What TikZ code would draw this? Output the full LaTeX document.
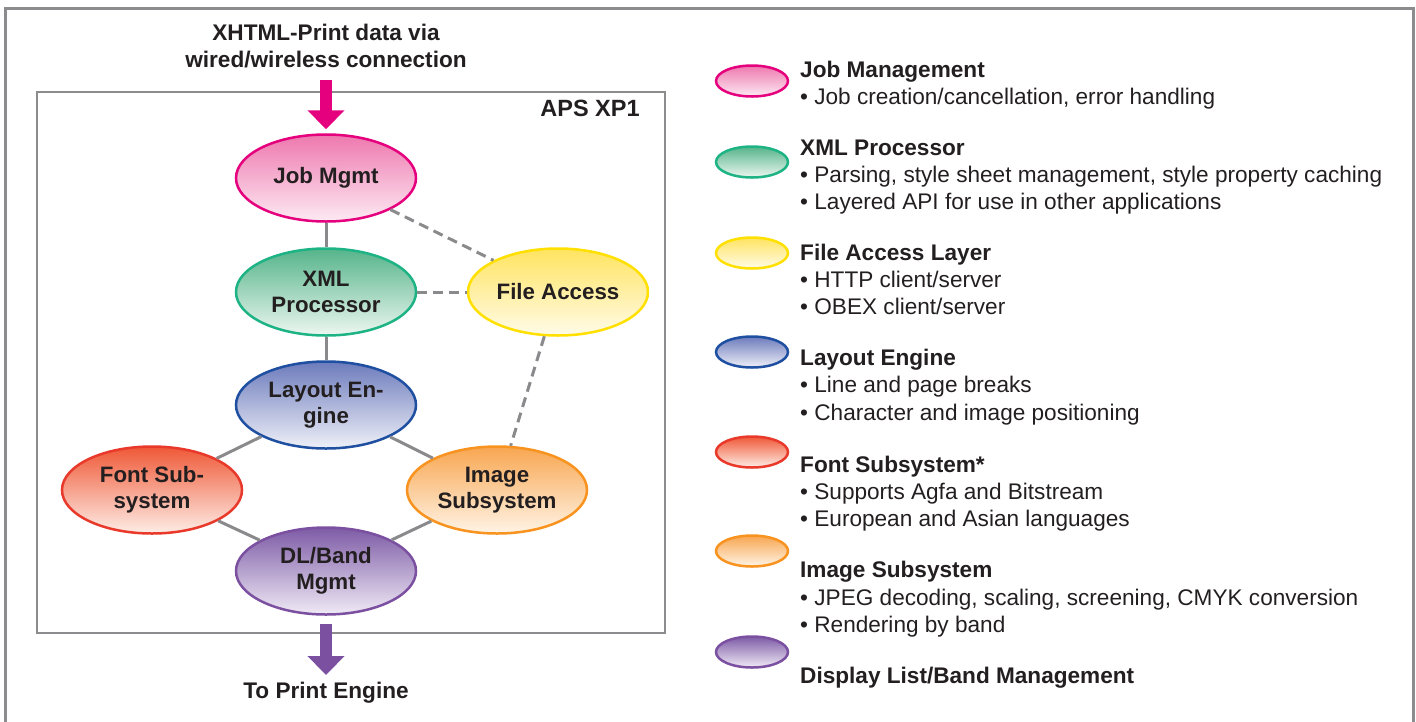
\documentclass[tikz,border=0pt]{standalone}
\usepackage{fontspec}
\setmainfont{Liberation Sans}
\usetikzlibrary{arrows.meta,shapes.geometric}
\definecolor{txt}{HTML}{231F20}
\definecolor{framegray}{HTML}{8C8C8E}
\definecolor{linkgray}{HTML}{8A8A8C}
\definecolor{jobB}{HTML}{E5007E}\definecolor{jobT}{HTML}{EE78AE}\definecolor{jobW}{HTML}{FDEAF3}
\definecolor{xmlB}{HTML}{1DB384}\definecolor{xmlT}{HTML}{55B48A}\definecolor{xmlW}{HTML}{EDF7F1}
\definecolor{fileB}{HTML}{FFE000}\definecolor{fileT}{HTML}{FFE460}\definecolor{fileW}{HTML}{FFFBE8}
\definecolor{layB}{HTML}{1F4FA0}\definecolor{layT}{HTML}{6C7BBC}\definecolor{layW}{HTML}{EFF0F8}
\definecolor{fontB}{HTML}{E8392B}\definecolor{fontT}{HTML}{EF5837}\definecolor{fontW}{HTML}{FEEDE6}
\definecolor{imgB}{HTML}{F7931E}\definecolor{imgT}{HTML}{F8A650}\definecolor{imgW}{HTML}{FFF4E6}
\definecolor{dlB}{HTML}{7C50A0}\definecolor{dlT}{HTML}{7D5BA6}\definecolor{dlW}{HTML}{F0EAF6}
\tikzset{
  blob/.style={ellipse, draw, line width=2.5pt, minimum width=180pt, minimum height=87pt,
    inner sep=0pt, align=center, font=\fontsize{22.3}{26}\selectfont\bfseries, text=txt},
  legblob/.style={ellipse, draw, line width=2.5pt, minimum width=72pt, minimum height=31pt, inner sep=0pt},
  sh/.style 2 args={top color=#1, bottom color=#2},
  link/.style={draw=linkgray, line width=3pt},
  dlink/.style={draw=linkgray, line width=3pt, dash pattern=on 10pt off 6pt},
  ltitle/.style={anchor=base west, font=\fontsize{22.6}{27}\selectfont\bfseries, inner sep=0pt, text=txt},
  litem/.style={anchor=base west, font=\fontsize{22.6}{27}\selectfont, inner sep=0pt, text=txt},
  plain/.style={font=\fontsize{22.6}{27}\selectfont\bfseries, text=txt, align=center, inner sep=0pt},
}
\begin{document}
\begin{tikzpicture}[x=1pt,y=-1pt]
\useasboundingbox (0,0) rectangle (1416,721);
% outer frame (cut at bottom)
\draw[framegray, line width=3pt] (5,730) -- (5,8) -- (1413,8) -- (1413,730);
% inner box
\node[draw=framegray, line width=2.5pt, minimum width=628pt, minimum height=541pt, inner sep=0pt] (box) at (351,362.5) {};
\node[plain, anchor=center, font=\fontsize{23.5}{27}\selectfont\bfseries] (aps) at (590,108) {APS XP1};
\node[plain] (intext) at (326,46) {XHTML-Print data via\\wired/wireless connection};
\node[plain] (outtext) at (326,693) {To Print Engine};
% ellipses
\node[blob, draw=jobB, sh={jobT}{jobW}] (job) at (326,178) {Job Mgmt};
\node[blob, draw=xmlB, sh={xmlT}{xmlW}] (xml) at (326,292) {XML\\Processor};
\node[blob, draw=fileB, sh={fileT}{fileW}] (file) at (558,292) {File Access};
\node[blob, draw=layB, sh={layT}{layW}] (lay) at (326,405) {Layout En-\\gine};
\node[blob, draw=fontB, sh={fontT}{fontW}] (font) at (152,490) {Font Sub-\\system};
\node[blob, draw=imgB, sh={imgT}{imgW}] (img) at (497,490) {Image\\Subsystem};
\node[blob, draw=dlB, sh={dlT}{dlW}] (dl) at (326,571) {DL/Band\\Mgmt};
% connectors
\path[link] (job) -- (xml);
\path[link] (xml) -- (lay);
\path[link] (lay) -- (font);
\path[link] (lay) -- (img);
\path[link] (font) -- (dl);
\path[link] (img) -- (dl);
\path[dlink] (job) -- (file);
\path[dlink] (xml) -- (file);
\path[dlink] (file) -- (img);
% in/out arrows
\coordinate (ain) at (326,80);
\coordinate (aout) at (326,675);
\draw[jobB, line width=12pt, -{Triangle[width=36pt,length=19pt]}, shorten >=4pt] (ain) -- (job.north);
\draw[dlB, line width=12pt, -{Triangle[width=36pt,length=19pt]}, shorten <=8pt] (dl.south) -- (aout);
% legend
\node[legblob, draw=jobB, sh={jobT}{jobW}] (l1) at (752,81) {};
\node[ltitle] (t1) at (800,77) {Job Management};
\node[litem] (t1a) at (800,104) {• Job creation/cancellation, error handling};
\node[legblob, draw=xmlB, sh={xmlT}{xmlW}] (l2) at (752,162) {};
\node[ltitle] (t2) at (800,155) {XML Processor};
\node[litem] (t2a) at (800,182) {• Parsing, style sheet management, style property caching};
\node[litem] (t2b) at (800,209) {• Layered API for use in other applications};
\node[legblob, draw=fileB, sh={fileT}{fileW}] (l3) at (752,253) {};
\node[ltitle] (t3) at (800,260) {File Access Layer};
\node[litem] (t3a) at (800,287) {• HTTP client/server};
\node[litem] (t3b) at (800,314) {• OBEX client/server};
\node[legblob, draw=layB, sh={layT}{layW}] (l4) at (752,352) {};
\node[ltitle] (t4) at (800,365) {Layout Engine};
\node[litem] (t4a) at (800,392) {• Line and page breaks};
\node[litem] (t4b) at (800,420) {• Character and image positioning};
\node[legblob, draw=fontB, sh={fontT}{fontW}] (l5) at (752,452) {};
\node[ltitle] (t5) at (800,472) {Font Subsystem*};
\node[litem] (t5a) at (800,499) {• Supports Agfa and Bitstream};
\node[litem] (t5b) at (800,526) {• European and Asian languages};
\node[legblob, draw=imgB, sh={imgT}{imgW}] (l6) at (752,551) {};
\node[ltitle] (t6) at (800,577) {Image Subsystem};
\node[litem] (t6a) at (800,605) {• JPEG decoding, scaling, screening, CMYK conversion};
\node[litem] (t6b) at (800,632) {• Rendering by band};
\node[legblob, draw=dlB, sh={dlT}{dlW}] (l7) at (752,652) {};
\node[ltitle] (t7) at (800,683) {Display List/Band Management};
\end{tikzpicture}
\end{document}
